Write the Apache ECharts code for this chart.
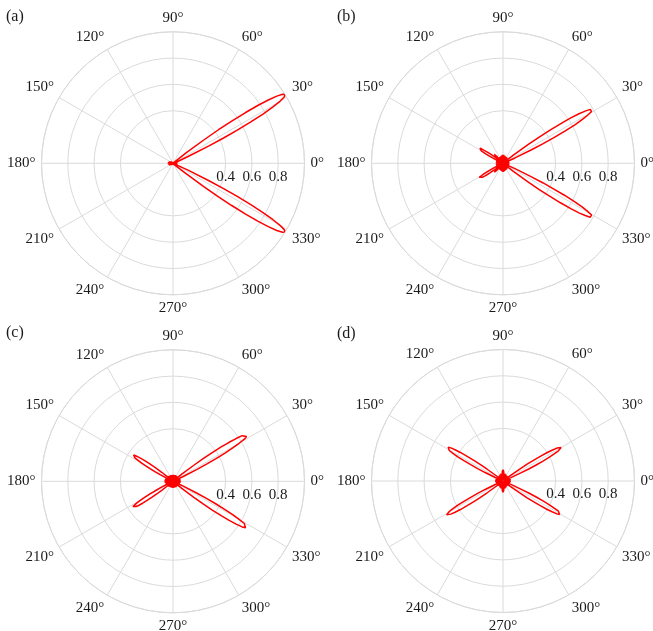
<!DOCTYPE html>
<html>
<head>
<meta charset="utf-8">
<script src="https://cdn.jsdelivr.net/npm/echarts@6/dist/echarts.min.js"></script>
<style>html,body{margin:0;padding:0;background:#fff;}#c{width:653px;height:631px;}</style>
</head>
<body>
<div id="c"></div>
<script>
// ================= DATA =================
const panelLabels = ['(a)', '(b)', '(c)', '(d)'];
const radiusTickLabels = ['0.4', '0.6', '0.8'];

// angles (deg) of the central clutter samples, shared by all panels
const clutterTheta = [0,5,10,15,20,25,30,35,40,45,50,55,60,65,70,75,80,85,90,95,100,105,110,115,120,125,130,135,140,145,150,155,160,165,170,175,180,185,190,195,200,205,210,215,220,225,230,235,240,245,250,255,260,265,270,275,280,285,290,295,300,305,310,315,320,325,330,335,340,345,350,355];

// ---- panel (a) ----
const lobeA1Theta = [23.1,24.5,25.9,26.6,27.3,28.0,28.7,29.4,30.1,30.8,31.5,32.2,32.9,33.6,34.3,35.0,35.7,36.4,37.1,38.5,39.9];
const lobeA1R     = [0.02,0.13,0.30,0.43,0.55,0.67,0.78,0.87,0.94,0.985,1.0,0.985,0.94,0.87,0.78,0.67,0.55,0.43,0.30,0.13,0.02];
const lobeA2Theta = [320.1,321.5,322.9,323.6,324.3,325.0,325.7,326.4,327.1,327.8,328.5,329.2,329.9,330.6,331.3,332.0,332.7,333.4,334.1,335.5,336.9];
const lobeA2R     = [0.02,0.13,0.30,0.43,0.55,0.67,0.78,0.87,0.94,0.985,1.0,0.985,0.94,0.87,0.78,0.67,0.55,0.43,0.30,0.13,0.02];
const clutterA = [0.035,0.003,0.035,0.003,0.03,0.003,0.01,0.01,0.01,0.02,0.003,0.015,0.003,0.012,0.003,0.01,0.003,0.01,0.003,0.01,0.003,0.01,0.003,0.012,0.003,0.015,0.003,0.018,0.003,0.022,0.003,0.03,0.003,0.035,0.003,0.04,0.005,0.04,0.003,0.035,0.003,0.03,0.003,0.022,0.003,0.018,0.003,0.015,0.003,0.012,0.003,0.01,0.003,0.01,0.003,0.01,0.003,0.01,0.003,0.012,0.003,0.015,0.003,0.02,0.01,0.01,0.01,0.01,0.01,0.03,0.003,0.035];

// ---- panel (b) ----
const lobeB1Theta = [22.6,24.0,25.4,26.1,26.8,27.5,28.2,28.9,29.6,30.3,31.0,31.7,32.4,33.1,33.8,34.5,35.2,35.9,36.6,38.0,39.4];
const lobeB1R     = [0.016,0.10,0.24,0.34,0.43,0.53,0.62,0.69,0.74,0.78,0.79,0.78,0.74,0.69,0.62,0.53,0.43,0.34,0.24,0.10,0.016];
const lobeB2Theta = [320.6,322.0,323.4,324.1,324.8,325.5,326.2,326.9,327.6,328.3,329.0,329.7,330.4,331.1,331.8,332.5,333.2,333.9,334.6,336.0,337.4];
const lobeB2R     = [0.016,0.10,0.24,0.34,0.43,0.53,0.62,0.69,0.74,0.78,0.79,0.78,0.74,0.69,0.62,0.53,0.43,0.34,0.24,0.10,0.016];
const lobeB3Theta = [139.6,141.0,142.4,143.1,143.8,144.5,145.2,145.9,146.6,147.3,148.0,148.7,149.4,150.1,150.8,151.5,152.2,152.9,153.6,155.0,156.4];
const lobeB3R     = [0.02,0.03,0.07,0.09,0.12,0.15,0.17,0.19,0.21,0.217,0.22,0.217,0.21,0.19,0.17,0.15,0.12,0.09,0.07,0.03,0.02];
const lobeB4Theta = [203.6,205.0,206.4,207.1,207.8,208.5,209.2,209.9,210.6,211.3,212.0,212.7,213.4,214.1,214.8,215.5,216.2,216.9,217.6,219.0,220.4];
const lobeB4R     = [0.02,0.03,0.07,0.09,0.12,0.15,0.17,0.19,0.21,0.217,0.22,0.217,0.21,0.19,0.17,0.15,0.12,0.09,0.07,0.03,0.02];
const lobeB5Theta = [130,132,134,136,138];
const lobeB5R     = [0.02,0.075,0.095,0.075,0.02];
const lobeB6Theta = [222,224,226,228,230];
const lobeB6R     = [0.02,0.075,0.095,0.075,0.02];
const clutterB = [0.05,0.003,0.05,0.003,0.05,0.003,0.01,0.01,0.01,0.05,0.003,0.055,0.003,0.055,0.003,0.06,0.003,0.065,0.005,0.065,0.003,0.06,0.003,0.055,0.003,0.055,0.003,0.05,0.003,0.05,0.003,0.05,0.003,0.055,0.003,0.055,0.005,0.055,0.003,0.055,0.003,0.05,0.003,0.05,0.003,0.05,0.003,0.055,0.003,0.055,0.003,0.06,0.003,0.065,0.005,0.065,0.003,0.06,0.003,0.055,0.003,0.055,0.003,0.05,0.01,0.01,0.01,0.01,0.01,0.05,0.003,0.05];

// ---- panel (c) ----
const lobeC1Theta = [23.6,25.0,26.4,27.1,27.8,28.5,29.2,29.9,30.6,31.3,32.0,32.7,33.4,34.1,34.8,35.5,36.2,36.9,37.6,39.0,40.4];
const lobeC1R     = [0.013,0.086,0.20,0.29,0.37,0.45,0.52,0.58,0.63,0.655,0.665,0.655,0.63,0.58,0.52,0.45,0.37,0.29,0.20,0.086,0.013];
const lobeC2Theta = [319.6,321.0,322.4,323.1,323.8,324.5,325.2,325.9,326.6,327.3,328.0,328.7,329.4,330.1,330.8,331.5,332.2,332.9,333.6,335.0,336.4];
const lobeC2R     = [0.013,0.086,0.20,0.29,0.37,0.45,0.52,0.58,0.63,0.655,0.665,0.655,0.63,0.58,0.52,0.45,0.37,0.29,0.20,0.086,0.013];
const lobeC3Theta = [138.6,140.0,141.4,142.1,142.8,143.5,144.2,144.9,145.6,146.3,147.0,147.7,148.4,149.1,149.8,150.5,151.2,151.9,152.6,154.0,155.4];
const lobeC3R     = [0.01,0.047,0.11,0.157,0.20,0.245,0.285,0.32,0.34,0.36,0.365,0.36,0.34,0.32,0.285,0.245,0.20,0.157,0.11,0.047,0.01];
const lobeC4Theta = [204.6,206.0,207.4,208.1,208.8,209.5,210.2,210.9,211.6,212.3,213.0,213.7,214.4,215.1,215.8,216.5,217.2,217.9,218.6,220.0,221.4];
const lobeC4R     = [0.01,0.047,0.11,0.157,0.20,0.245,0.285,0.32,0.34,0.36,0.365,0.36,0.34,0.32,0.285,0.245,0.20,0.157,0.11,0.047,0.01];
const clutterC = [0.06,0.003,0.06,0.003,0.055,0.003,0.01,0.01,0.01,0.05,0.003,0.05,0.003,0.05,0.003,0.05,0.003,0.05,0.005,0.05,0.003,0.05,0.003,0.05,0.003,0.05,0.003,0.055,0.003,0.055,0.003,0.06,0.003,0.06,0.005,0.065,0.005,0.065,0.005,0.06,0.003,0.06,0.003,0.055,0.003,0.055,0.003,0.05,0.003,0.05,0.003,0.05,0.003,0.05,0.005,0.05,0.003,0.05,0.003,0.05,0.003,0.05,0.003,0.05,0.01,0.01,0.01,0.01,0.01,0.055,0.003,0.06];

// ---- panel (d) ----
const lobeD1Theta = [21.6,23.0,24.4,25.1,25.8,26.5,27.2,27.9,28.6,29.3,30.0,30.7,31.4,32.1,32.8,33.5,34.2,34.9,35.6,37.0,38.4];
const lobeD1R     = [0.01,0.066,0.153,0.22,0.28,0.34,0.40,0.44,0.48,0.50,0.51,0.50,0.48,0.44,0.40,0.34,0.28,0.22,0.153,0.066,0.01];
const lobeD2Theta = [321.6,323.0,324.4,325.1,325.8,326.5,327.2,327.9,328.6,329.3,330.0,330.7,331.4,332.1,332.8,333.5,334.2,334.9,335.6,337.0,338.4];
const lobeD2R     = [0.01,0.066,0.153,0.22,0.28,0.34,0.40,0.44,0.48,0.50,0.51,0.50,0.48,0.44,0.40,0.34,0.28,0.22,0.153,0.066,0.01];
const lobeD3Theta = [140.6,142.0,143.4,144.1,144.8,145.5,146.2,146.9,147.6,148.3,149.0,149.7,150.4,151.1,151.8,152.5,153.2,153.9,154.6,156.0,157.4];
const lobeD3R     = [0.01,0.065,0.15,0.215,0.275,0.335,0.39,0.435,0.47,0.49,0.50,0.49,0.47,0.435,0.39,0.335,0.275,0.215,0.15,0.065,0.01];
const lobeD4Theta = [202.6,204.0,205.4,206.1,206.8,207.5,208.2,208.9,209.6,210.3,211.0,211.7,212.4,213.1,213.8,214.5,215.2,215.9,216.6,218.0,219.4];
const lobeD4R     = [0.01,0.065,0.15,0.215,0.275,0.335,0.39,0.435,0.47,0.49,0.50,0.49,0.47,0.435,0.39,0.335,0.275,0.215,0.15,0.065,0.01];
const clutterD = [0.06,0.003,0.06,0.003,0.055,0.003,0.01,0.01,0.01,0.05,0.003,0.05,0.003,0.055,0.003,0.06,0.005,0.07,0.085,0.07,0.005,0.06,0.003,0.055,0.003,0.05,0.003,0.05,0.003,0.05,0.003,0.05,0.003,0.055,0.003,0.06,0.005,0.06,0.003,0.055,0.003,0.05,0.003,0.05,0.003,0.05,0.003,0.05,0.003,0.055,0.003,0.06,0.005,0.07,0.085,0.07,0.005,0.06,0.003,0.055,0.003,0.05,0.003,0.05,0.01,0.01,0.01,0.01,0.01,0.055,0.003,0.06];

const panels = [
  { lobes: [[lobeA1Theta, lobeA1R], [lobeA2Theta, lobeA2R]], clutter: clutterA },
  { lobes: [[lobeB1Theta, lobeB1R], [lobeB2Theta, lobeB2R], [lobeB3Theta, lobeB3R], [lobeB4Theta, lobeB4R], [lobeB5Theta, lobeB5R], [lobeB6Theta, lobeB6R]], clutter: clutterB },
  { lobes: [[lobeC1Theta, lobeC1R], [lobeC2Theta, lobeC2R], [lobeC3Theta, lobeC3R], [lobeC4Theta, lobeC4R]], clutter: clutterC },
  { lobes: [[lobeD1Theta, lobeD1R], [lobeD2Theta, lobeD2R], [lobeD3Theta, lobeD3R], [lobeD4Theta, lobeD4R]], clutter: clutterD }
];

// build one ordered closed trace [r, theta] per panel
function buildTrace(p) {
  const pts = [];
  const spans = p.lobes.map(l => [l[0][0], l[0][l[0].length - 1]]);
  p.lobes.forEach(l => l[0].forEach((t, k) => pts.push([l[1][k], t])));
  clutterTheta.forEach((t, k) => {
    if (!spans.some(s => t >= s[0] && t <= s[1])) pts.push([p.clutter[k], t]);
  });
  pts.sort((a, b) => a[1] - b[1]);
  pts.push([pts[0][0], pts[0][1] + 360]);
  return pts;
}

// ================= LAYOUT / STYLE =================
const centers = [[173, 163.3], [503, 163.3], [173, 481.3], [503, 481]];
const labelPos = [[6, 9], [337, 9], [6, 325], [337, 326]];
const R = 131.5;
const FONT = "'Liberation Serif', 'DejaVu Serif', serif";
const GRID = '#dadada';
const TXT = '#1a1a1a';

const chart = echarts.init(document.getElementById('c'), null, { renderer: 'canvas' });

const polar = [], angleAxis = [], radiusAxis = [], series = [], title = [];
panels.forEach((p, i) => {
  polar.push({ center: centers[i], radius: R });
  angleAxis.push({
    polarIndex: i, type: 'value', min: 0, max: 360, interval: 30,
    startAngle: 0, clockwise: false,
    axisLine: { show: true, lineStyle: { color: GRID, width: 1 } },
    axisTick: { show: false },
    splitLine: { show: true, lineStyle: { color: GRID, width: 1 } },
    axisLabel: { show: true, margin: 6, formatter: '{value}°', color: TXT, fontFamily: FONT, fontSize: 15 }
  });
  radiusAxis.push({
    polarIndex: i, type: 'value', min: 0, max: 1, interval: 0.2,
    axisLine: { show: false }, axisTick: { show: false },
    splitLine: { show: true, lineStyle: { color: ['transparent', 'transparent', GRID, GRID, GRID, GRID], width: 1 } },
    axisLabel: {
      show: true, margin: -6, verticalAlign: 'top', align: 'center',
      color: TXT, fontFamily: FONT, fontSize: 15,
      formatter: v => { const s = v.toFixed(1); return radiusTickLabels.indexOf(s) >= 0 ? s : ''; }
    }
  });
  series.push({
    type: 'line', coordinateSystem: 'polar', polarIndex: i,
    data: buildTrace(p),
    symbol: 'none', smooth: false,
    lineStyle: { color: '#ff0000', width: 1.5 },
    z: 5
  });
  title.push({
    text: panelLabels[i], left: labelPos[i][0], top: labelPos[i][1], padding: 0,
    textStyle: { fontFamily: FONT, fontSize: 16, fontWeight: 'normal', color: TXT }
  });
});

chart.setOption({ animation: false, title, polar, angleAxis, radiusAxis, series });
</script>
</body>
</html>
